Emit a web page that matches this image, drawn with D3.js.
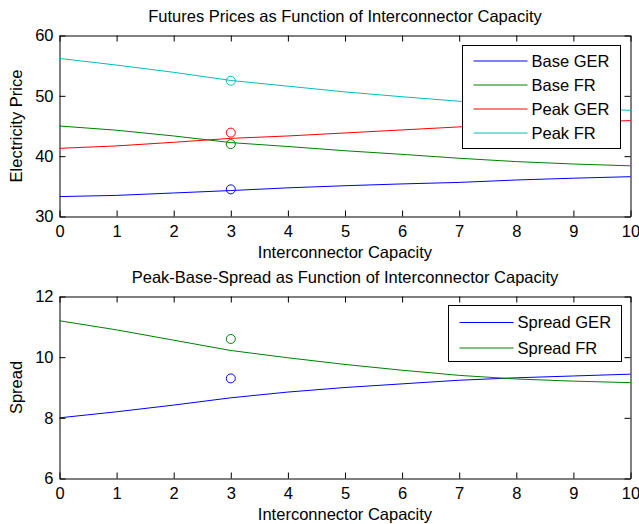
<!DOCTYPE html>
<html>
<head>
<meta charset="utf-8">
<script src="https://cdn.jsdelivr.net/npm/d3@7"></script>
<style>
  html, body { margin: 0; padding: 0; background: #fff; }
  svg { display: block; }
  text { font-family: "Liberation Sans", Arial, sans-serif; fill: #000; }
</style>
</head>
<body>
<svg id="chart" width="639" height="524"></svg>
<script>
// Interconnector capacity grid
const capacity = [0, 1, 2, 3, 4, 5, 6, 7, 8, 9, 10];

// Futures prices
const baseGER = [33.3, 33.5, 33.9, 34.3, 34.75, 35.1, 35.4, 35.65, 36.05, 36.35, 36.6];
const baseFR  = [45.0, 44.3, 43.35, 42.25, 41.6, 40.9, 40.3, 39.65, 39.1, 38.7, 38.4];
const peakGER = [41.3, 41.7, 42.3, 42.95, 43.35, 43.85, 44.35, 44.85, 45.3, 45.6, 45.9];
const peakFR  = [56.2, 55.1, 53.9, 52.55, 51.6, 50.65, 49.85, 49.1, 48.5, 48.0, 47.6];

// Peak-base spreads
const spreadGER = [8.0, 8.2, 8.42, 8.66, 8.85, 9.0, 9.12, 9.24, 9.32, 9.38, 9.44];
const spreadFR  = [11.2, 10.9, 10.56, 10.22, 9.98, 9.76, 9.57, 9.4, 9.28, 9.21, 9.16];

// Observed values at capacity 3
const observedX = 3;
const observedPrices = [34.5, 42.0, 43.9, 52.5];   // Base GER, Base FR, Peak GER, Peak FR
const observedSpreads = [9.3, 10.6];               // Spread GER, Spread FR

// Tick labels
const xTicks = [0, 1, 2, 3, 4, 5, 6, 7, 8, 9, 10];
const priceTicks = [30, 40, 50, 60];
const spreadTicks = [6, 8, 10, 12];

const priceNames = ["Base GER", "Base FR", "Peak GER", "Peak FR"];
const spreadNames = ["Spread GER", "Spread FR"];
const colors4 = ["#0000ff", "#008000", "#ff0000", "#00bfbf"];
const colors2 = ["#0000ff", "#008000"];

const svg = d3.select("#chart");
const FS = 16.5;
const left = 59.5, right = 630.5;

function panel(cfg) {
  const g = svg.append("g");
  const x = d3.scaleLinear().domain([0, 10]).range([left, right]);
  const y = d3.scaleLinear().domain(cfg.yDomain).range([cfg.bottom, cfg.top]);
  const tick = 6;
  const fmt = d3.format("d");

  // frame axes with inward ticks
  g.append("g").attr("transform", `translate(0,${cfg.bottom})`)
    .call(d3.axisBottom(x).tickValues(xTicks).tickFormat(fmt).tickSizeInner(-tick).tickSizeOuter(0).tickPadding(8.5));
  g.append("g").attr("transform", `translate(0,${cfg.top})`)
    .call(d3.axisTop(x).tickValues(xTicks).tickSizeInner(-tick).tickSizeOuter(0).tickFormat(""));
  g.append("g").attr("transform", `translate(${left},0)`)
    .call(d3.axisLeft(y).tickValues(cfg.yTicks).tickFormat(fmt).tickSizeInner(-tick).tickSizeOuter(0).tickPadding(6));
  g.append("g").attr("transform", `translate(${right},0)`)
    .call(d3.axisRight(y).tickValues(cfg.yTicks).tickSizeInner(-tick).tickSizeOuter(0).tickFormat(""));
  g.selectAll(".domain").attr("stroke", "#000");
  g.selectAll(".tick line").attr("stroke", "#000");
  g.selectAll(".tick text").style("font-size", FS + "px").attr("fill", "#000")
    .style("font-family", '"Liberation Sans", Arial, sans-serif');

  // series lines
  const line = d3.line().x((d, i) => x(capacity[i])).y(d => y(d));
  cfg.series.forEach((s, i) => {
    g.append("path").datum(s).attr("d", line)
      .attr("fill", "none").attr("stroke", cfg.colors[i]).attr("stroke-width", 1);
  });
  // observed markers
  cfg.observed.forEach((v, i) => {
    g.append("circle").attr("cx", x(observedX)).attr("cy", y(v)).attr("r", 4.5)
      .attr("fill", "none").attr("stroke", cfg.colors[i]).attr("stroke-width", 1);
  });

  // titles
  g.append("text").attr("x", (left + right) / 2).attr("y", cfg.top - 13.5)
    .attr("text-anchor", "middle").style("font-size", FS + "px").text(cfg.title);
  g.append("text").attr("x", (left + right) / 2).attr("y", cfg.bottom + 41.5)
    .attr("text-anchor", "middle").style("font-size", FS + "px").text("Interconnector Capacity");
  g.append("text").attr("transform", `translate(21.5,${(cfg.top + cfg.bottom) / 2}) rotate(-90)`)
    .attr("text-anchor", "middle").style("font-size", FS + "px").text(cfg.ylabel);

  // legend
  const L = cfg.legend;
  const lg = g.append("g");
  lg.append("rect").attr("x", L.x).attr("y", L.y).attr("width", L.w).attr("height", L.h)
    .attr("fill", "#fff").attr("stroke", "#000").attr("stroke-width", 1);
  cfg.names.forEach((n, i) => {
    const yy = L.y + L.first + i * L.step;
    lg.append("line").attr("x1", L.x + 11).attr("x2", L.x + 65).attr("y1", yy).attr("y2", yy)
      .attr("stroke", cfg.colors[i]).attr("stroke-width", 1);
    lg.append("text").attr("x", L.x + 69).attr("y", yy).attr("dy", "0.35em")
      .style("font-size", FS + "px").text(n);
  });
}

panel({
  top: 35.5, bottom: 216.5, yDomain: [30, 60], yTicks: priceTicks,
  series: [baseGER, baseFR, peakGER, peakFR], observed: observedPrices,
  colors: colors4, names: priceNames,
  title: "Futures Prices as Function of Interconnector Capacity",
  ylabel: "Electricity Price",
  legend: { x: 462.5, y: 45.5, w: 158, h: 103, first: 15.5, step: 24 }
});

panel({
  top: 296.5, bottom: 478.5, yDomain: [6, 12], yTicks: spreadTicks,
  series: [spreadGER, spreadFR], observed: observedSpreads,
  colors: colors2, names: spreadNames,
  title: "Peak-Base-Spread as Function of Interconnector Capacity",
  ylabel: "Spread",
  legend: { x: 448.5, y: 305.5, w: 173, h: 56, first: 17, step: 25.5 }
});
</script>
</body>
</html>
